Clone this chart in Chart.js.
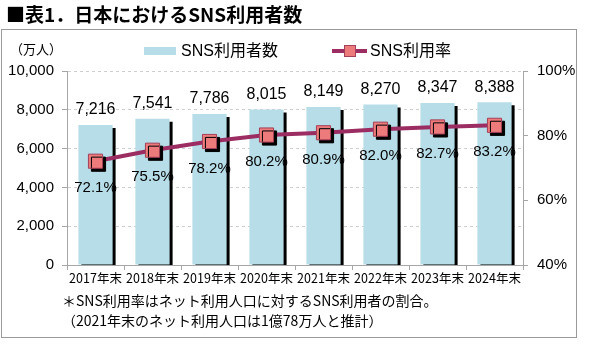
<!DOCTYPE html>
<html lang="ja">
<head>
    <meta charset="UTF-8">
    <title>日本におけるSNS利用者数</title>
    <script src="https://cdn.jsdelivr.net/npm/chart.js"></script>
    <style>
        body { margin: 0; background: #fff; }
        #wrap { position: relative; width: 600px; height: 360px; font-family: "Noto Sans CJK JP", sans-serif; color: #000; }
        #wrap canvas { position: absolute; left: 0; top: 0; }
        .txt { position: absolute; white-space: nowrap; line-height: 1; }
        #frame { position: absolute; left: 1px; top: 29px; width: 574px; height: 307px; border: 1px solid #9a9a9a; }
    </style>
</head>
<body>
    <div id="wrap">
        <div id="frame"></div>
        <canvas id="myChart" width="600" height="360"></canvas>
        <div class="txt" style="left:6px; top:4px; font-size:19px; font-weight:bold;">■表1．日本におけるSNS利用者数</div>
        <div class="txt" style="left:10px; top:42px; font-size:13px;">（万人）</div>
        <!-- legend -->
        <div style="position:absolute; left:144px; top:47px; width:32px; height:8px; background:#b7dde8;"></div>
        <div class="txt" style="left:181px; top:43px; font-size:16px; font-family:'Liberation Sans','Noto Sans CJK JP';">SNS利用者数</div>
        <div style="position:absolute; left:332px; top:49px; width:35px; height:4px; background:#9b2d62;"></div>
        <div style="position:absolute; left:344px; top:45px; width:10px; height:10px; background:#ee7b7b; border:1px solid #a3405a;"></div>
        <div class="txt" style="left:370px; top:43px; font-size:16px; font-family:'Liberation Sans','Noto Sans CJK JP';">SNS利用率</div>
        <!-- notes -->
        <div class="txt" style="left:62px; top:293px; font-size:14px;">＊SNS利用率はネット利用人口に対するSNS利用者の割合。</div>
        <div class="txt" style="left:62px; top:313px; font-size:14px;">（2021年末のネット利用人口は1億78万人と推計）</div>
    </div>
    <script>
        const years = ['2017年末', '2018年末', '2019年末', '2020年末', '2021年末', '2022年末', '2023年末', '2024年末'];
        const users = [7216, 7541, 7786, 8015, 8149, 8270, 8347, 8388];   // 万人
        const rate = [72.1, 75.5, 78.2, 80.2, 80.9, 82.0, 82.7, 83.2];     // %

        const numFont = "'Liberation Sans', 'Noto Sans CJK JP', sans-serif";

        // black drop shadow for bars and markers
        const shadowPlugin = {
            id: 'shadow',
            beforeDatasetDraw(chart, args) {
                const ds = chart.data.datasets[args.index];
                if (!ds.shadow) return;
                const ctx = chart.ctx;
                ctx.save();
                ctx.shadowColor = '#000';
                ctx.shadowOffsetX = 3;
                ctx.shadowOffsetY = 3;
                ctx.shadowBlur = 0;
            },
            afterDatasetDraw(chart, args) {
                const ds = chart.data.datasets[args.index];
                if (ds.shadow) chart.ctx.restore();
            }
        };

        // value labels
        const labelPlugin = {
            id: 'valueLabels',
            afterDatasetsDraw(chart) {
                const ctx = chart.ctx;
                ctx.save();
                ctx.fillStyle = '#000';
                ctx.textAlign = 'center';
                ctx.textBaseline = 'middle';
                chart.getDatasetMeta(0).data.forEach((bar, i) => {
                    ctx.font = '16px ' + numFont;
                    ctx.fillText(users[i].toLocaleString('en-US'), bar.x, bar.y - 15);
                });
                chart.getDatasetMeta(2).data.forEach((pt, i) => {
                    ctx.font = '15px ' + numFont;
                    ctx.fillText(rate[i].toFixed(1) + '%', pt.x, pt.y + 27);
                });
                ctx.restore();
            }
        };

        new Chart(document.getElementById('myChart'), {
            type: 'bar',
            data: {
                labels: years,
                datasets: [{
                    label: 'SNS利用者数',
                    data: users,
                    backgroundColor: '#b7dde8',
                    barPercentage: 0.6,
                    categoryPercentage: 1,
                    yAxisID: 'y',
                    order: 3,
                    clip: 0,
                    shadow: true
                }, {
                    type: 'line',
                    label: 'SNS利用率',
                    data: rate,
                    borderColor: '#9b2d62',
                    borderWidth: 4,
                    pointRadius: 0,
                    yAxisID: 'y2',
                    order: 2
                }, {
                    type: 'line',
                    label: 'SNS利用率 marker',
                    data: rate,
                    showLine: false,
                    pointStyle: 'rect',
                    pointRadius: 10,
                    pointBackgroundColor: '#ee7b7b',
                    pointBorderColor: '#a3405a',
                    pointBorderWidth: 1,
                    yAxisID: 'y2',
                    order: 1,
                    shadow: true
                }]
            },
            options: {
                responsive: false,
                animation: false,
                layout: { padding: { top: 71, left: 0, right: 0, bottom: 0 } },
                plugins: {
                    legend: { display: false },
                    tooltip: { enabled: false }
                },
                scales: {
                    x: {
                        offset: true,
                        grid: { offset: true, drawOnChartArea: false, tickLength: 5, color: '#a6a6a6' },
                        border: { color: '#a6a6a6' },
                        ticks: { color: '#000', padding: 1, autoSkip: false, maxRotation: 0, font: { size: 12.5, family: "'Noto Sans CJK JP', sans-serif" } },
                        afterFit(scale) { scale.height = 95; }
                    },
                    y: {
                        position: 'left',
                        min: 0,
                        max: 10000,
                        ticks: {
                            stepSize: 2000,
                            color: '#000',
                            padding: 8,
                            font: { size: 15, family: numFont },
                            callback: v => v.toLocaleString('en-US')
                        },
                        grid: { color: '#cfcfcf', tickColor: '#a6a6a6', tickLength: 5 },
                        border: { color: '#a6a6a6', dash: [3, 3] },
                        afterFit(scale) { scale.width = 67; }
                    },
                    y2: {
                        position: 'right',
                        min: 40,
                        max: 100,
                        ticks: {
                            stepSize: 20,
                            color: '#000',
                            padding: 9,
                            font: { size: 15, family: numFont },
                            callback: v => v + '%'
                        },
                        grid: { drawOnChartArea: false, tickColor: '#a6a6a6', tickLength: 5 },
                        border: { color: '#a6a6a6' },
                        afterFit(scale) { scale.width = 77; }
                    }
                }
            },
            plugins: [shadowPlugin, labelPlugin]
        });
    </script>
</body>
</html>
